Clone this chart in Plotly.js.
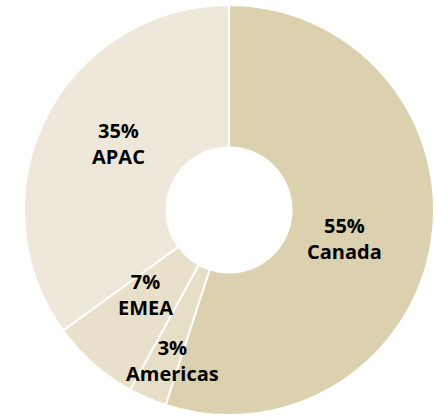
<!DOCTYPE html>
<html>
<head>
<meta charset="utf-8">
<script src="https://cdn.plot.ly/plotly-3.0.1.min.js"></script>
<style>html,body{margin:0;padding:0;background:#fff;}#chart{width:436px;height:417px;}</style>
</head>
<body>
<div id="chart"></div>
<script>
const labels = ["Canada", "Americas", "EMEA", "APAC"];
const values = [55, 3, 7, 35];
const colors = ["#DCD1AE", "#E6DEC6", "#E8E0CA", "#EEE8DA"];
// label anchor positions (pixels in the 436x417 frame)
const labelX = [344, 172, 145, 118];
const labelY = [238, 360, 294, 143];

const W = 436, H = 417;
const annotations = labels.map((l, i) => ({
  xref: "paper", yref: "paper",
  x: labelX[i] / W, y: 1 - labelY[i] / H,
  xanchor: "center", yanchor: "middle",
  text: "<b>" + values[i] + "%</b><br><b>" + l + "</b>",
  showarrow: false,
  font: {family: "Open Sans, Noto Sans, sans-serif", size: 20, color: "#000"}
}));

Plotly.newPlot("chart", [{
  type: "pie",
  labels: labels,
  values: values,
  hole: 0.305,
  sort: false,
  direction: "clockwise",
  rotation: 0,
  textinfo: "none",
  marker: {colors: colors, line: {color: "#ffffff", width: 2}},
  domain: {x: [24 / W, 434 / W], y: [1 - 415 / H, 1 - 5 / H]},
  showlegend: false,
  hoverinfo: "none"
}], {
  width: W, height: H,
  margin: {l: 0, r: 0, t: 0, b: 0},
  paper_bgcolor: "#ffffff",
  showlegend: false,
  annotations: annotations
}, {staticPlot: true});
</script>
</body>
</html>
